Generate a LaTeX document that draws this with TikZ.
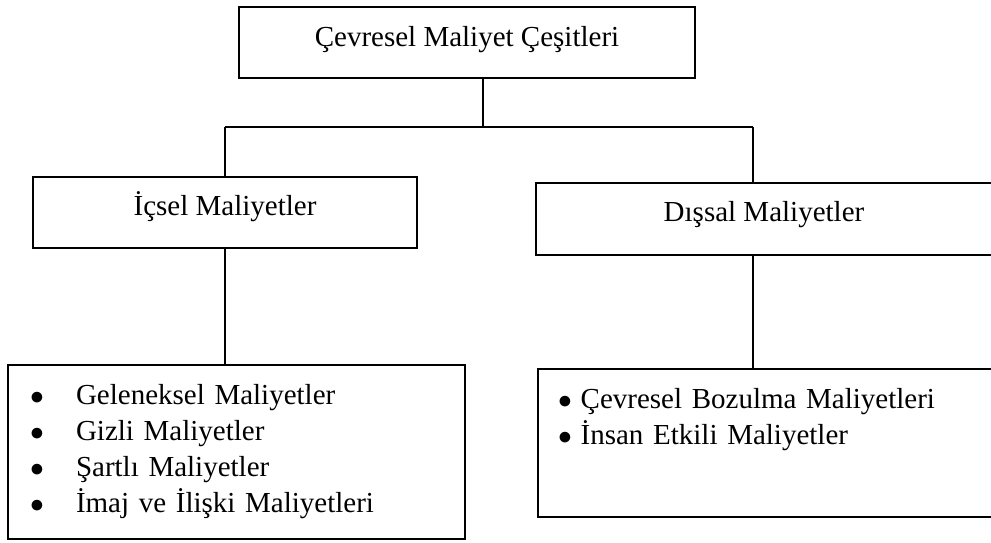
\documentclass[tikz,border=0pt]{standalone}
\usepackage{fontspec}
\setmainfont{Liberation Serif}

\tikzset{every picture/.style={line width=1.5pt}}
\tikzset{box/.style={draw, inner sep=0pt, font=\fontsize{21.75}{27}\selectfont}}
\newcommand{\lbul}{\makebox[34.5pt][l]{$\bullet$}}
\newcommand{\rbul}{\makebox[17pt][l]{$\bullet$}}

\begin{document}
\begin{tikzpicture}[x=0.75pt,y=0.75pt,yscale=-1,xscale=1]
\useasboundingbox (0,0) rectangle (991,542);

%Shape: Rectangle [top]
\node [box, minimum width=342pt, text height=29.25pt, text depth=24pt] (top) at (467,42.5) {Çevresel Maliyet Çeşitleri};
%Shape: Rectangle [left]
\node [box, minimum width=288pt, text height=28.5pt, text depth=24.75pt] (ic) at (225,212.5) {İçsel Maliyetler};
%Shape: Rectangle [right]
\node [box, minimum width=342pt, text height=28.5pt, text depth=25.5pt] (dis) at (764,219) {Dışsal Maliyetler};

%Shape: Rectangle [left list]
\node [box, inner xsep=16.5pt, text width=309.75pt, align=left, text height=29.25pt, text depth=101.25pt] (icl) at (236.5,452) {\lbul Geleneksel Maliyetler\\
	\lbul Gizli Maliyetler\\
	\lbul Şartlı Maliyetler\\
	\lbul İmaj ve İlişki Maliyetleri};
%Shape: Rectangle [right list]
\node [box, inner xsep=15pt, text width=310.5pt, align=left, text height=29.25pt, text depth=81.75pt] (disl) at (765,443) {\rbul Çevresel Bozulma Maliyetleri\\
	\rbul İnsan Etkili Maliyetler};

%Straight Lines [bus]
\coordinate (jt) at (483,127);
\coordinate (jl) at (225,127);
\coordinate (jr) at (753,127);
\draw (top.south -| jt) -- (jt) ;
\draw (jl) -- (jr) ;
\draw (jl) -- (ic.north -| jl) ;
\draw (jr) -- (dis.north -| jr) ;
%Straight Lines [down]
\draw (ic.south) -- (icl.north -| ic.south) ;
\draw (dis.south -| jr) -- (disl.north -| jr) ;

\end{tikzpicture}
\end{document}
